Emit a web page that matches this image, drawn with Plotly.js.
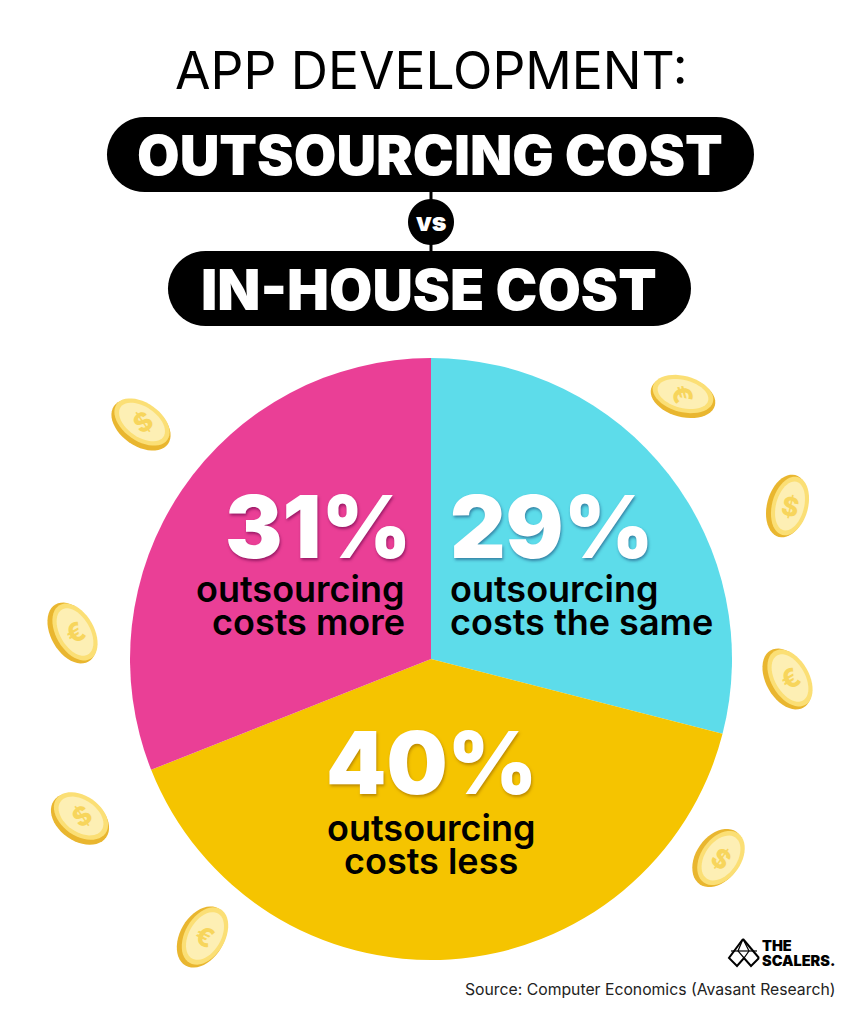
<!DOCTYPE html>
<html><head><meta charset="utf-8">
<script src="https://cdn.plot.ly/plotly-3.0.1.min.js"></script>
<style>html,body{margin:0;padding:0;background:#fff}#c{width:862px;height:1024px}</style>
</head><body><div id="c"></div>
<script>
const categories = ['outsourcing costs the same', 'outsourcing costs less', 'outsourcing costs more'];
const values = [29, 40, 31];
const sliceColors = ['#5DDCEA', '#F5C400', '#EA3F96'];
const titleLine = 'APP DEVELOPMENT:';
const pillTop = 'OUTSOURCING COST';
const pillBottom = 'IN-HOUSE COST';
const sourceNote = 'Source: Computer Economics (Avasant Research)';
const W = 862, H = 1024, FONT = 'Inter, "Noto Sans", sans-serif';

const px = x => x / W, py = y => 1 - y / H;
const shapes = [], annotations = [];

function ellipsePath(cx, cy, rx, ry, rot) {
  const r = rot * Math.PI / 180, pts = [];
  for (let i = 0; i < 48; i++) {
    const t = i / 48 * 2 * Math.PI, a = rx * Math.cos(t), b = ry * Math.sin(t);
    pts.push([cx + a * Math.cos(r) - b * Math.sin(r), cy + a * Math.sin(r) + b * Math.cos(r)]);
  }
  return pts;
}
function poly(pts, close) {
  return pts.map((p, i) => (i ? 'L' : 'M') + px(p[0]).toFixed(5) + ',' + py(p[1]).toFixed(5)).join(' ') + (close ? ' Z' : '');
}
function fillShape(pts, color) {
  shapes.push({type: 'path', xref: 'paper', yref: 'paper', path: poly(pts, true), fillcolor: color, line: {width: 0}, layer: 'above'});
}
function strokeShape(pts, color, w, close) {
  shapes.push({type: 'path', xref: 'paper', yref: 'paper', path: poly(pts, close), line: {color: color, width: w}, layer: 'above'});
}
function pill(x0, x1, y0, y1) {
  const r = (y1 - y0) / 2, pts = [];
  for (let i = 0; i <= 24; i++) { const t = -Math.PI / 2 + i / 24 * Math.PI; pts.push([x1 - r + r * Math.cos(t), y0 + r + r * Math.sin(t)]); }
  for (let i = 0; i <= 24; i++) { const t = Math.PI / 2 + i / 24 * Math.PI; pts.push([x0 + r + r * Math.cos(t), y0 + r + r * Math.sin(t)]); }
  fillShape(pts, '#000');
}
function label(text, x, y, size, weight, color, anchor, extra) {
  annotations.push(Object.assign({
    text: text, xref: 'paper', yref: 'paper', x: px(x), y: py(y), showarrow: false,
    xanchor: anchor || 'center', yanchor: 'middle', borderpad: 0, borderwidth: 0,
    font: {family: FONT, size: size, weight: weight, color: color}
  }, extra || {}));
}

// coins: cx, cy, semi-major, semi-minor, rotation, rim offset x/y, symbol, symbol angle
const coins = [
  [141, 425, 33, 21, 35, -1, 3, '$', -35],
  [683, 397, 33, 20, 15, 0, 3, '€', 75],
  [787, 506, 32, 20, -75, -3, 0, '$', 12],
  [72, 633, 33, 21, 60, -3, 1, '€', -30],
  [787, 679, 33, 21, 60, -3, 1, '€', -30],
  [80, 819, 32, 22, 35, -1, 3, '$', -35],
  [718, 858, 32, 22, -55, -3, 0, '$', 35],
  [202, 937, 33, 22, -60, -3, 1, '€', 25]
];
coins.forEach(c => {
  const [x, y, a, b, r, ox, oy, sym, ang] = c;
  fillShape(ellipsePath(x, y, a, b, r), '#E9B62F');
  fillShape(ellipsePath(x - ox, y - oy, a - 2, b - 2, r), '#FBDF75');
  fillShape(ellipsePath(x - ox, y - oy, a - 7, b - 6, r), '#FDEFB4');
  label(sym, x - ox, y - oy, 26, 800, '#F7D55C', 'center', {textangle: ang});
});

// header
strokeShape([[431, 190], [431, 252]], '#000', 3, false);
pill(107, 754, 117, 192);
pill(168, 691, 251, 326);
fillShape(ellipsePath(431, 222, 23, 23, 0), '#000');
label(titleLine, 431, 70, 51.5, 400, '#000');
label(pillTop, 430, 155, 55, 900, '#fff');
label(pillBottom, 429, 290, 56, 900, '#fff');
label('vs', 431, 222, 25, 900, '#fff');

// pie captions
const shadows = ['1px 2px 3px rgba(20,60,110,.55)', '1px 2px 3px rgba(140,90,0,.55)', '1px 2px 3px rgba(100,0,70,.6)'];
label(values[2] + '%', 411, 527, 86, 900, '#fff', 'right');
annotations[annotations.length - 1].font.shadow = shadows[2];
label(values[0] + '%', 450, 527, 86, 900, '#fff', 'left');
annotations[annotations.length - 1].font.shadow = shadows[0];
label(values[1] + '%', 431, 763, 86, 900, '#fff');
annotations[annotations.length - 1].font.shadow = shadows[1];
label('outsourcing', 405, 589, 36, 600, '#000', 'right');
label('costs more', 405, 622, 36, 600, '#000', 'right');
label('outsourcing', 450, 589, 36, 600, '#000', 'left');
label('costs the same', 450, 622, 36, 600, '#000', 'left');
label('outsourcing', 431, 828, 36, 600, '#000');
label('costs less', 431, 861, 36, 600, '#000');

// logo
strokeShape([[743, 939], [729, 958], [737, 966], [744, 958], [751, 966], [759, 958]], '#000', 2, false);
strokeShape([[743, 939], [759, 958]], '#000', 2, false);
strokeShape([[731, 951], [757, 951]], '#000', 1.2, false);
strokeShape([[743, 939], [738, 951], [744, 958], [749, 951], [743, 939]], '#000', 1.2, false);
label('THE', 762, 945, 14.5, 900, '#000', 'left');
label('SCALERS.', 762, 960, 14.5, 900, '#000', 'left');

label(sourceNote, 835, 989, 15.75, 400, '#222', 'right');

Plotly.newPlot('c', [{
  type: 'pie', labels: categories, values: values, sort: false, direction: 'clockwise', rotation: 0,
  marker: {colors: sliceColors, line: {width: 0}}, textinfo: 'none', hoverinfo: 'label+percent',
  domain: {x: [px(130), px(732)], y: [py(960), py(358)]}, showlegend: false
}], {
  width: W, height: H, margin: {l: 0, r: 0, t: 0, b: 0}, paper_bgcolor: '#fff',
  showlegend: false, shapes: shapes, annotations: annotations
}, {displayModeBar: false, staticPlot: true});
</script></body></html>
